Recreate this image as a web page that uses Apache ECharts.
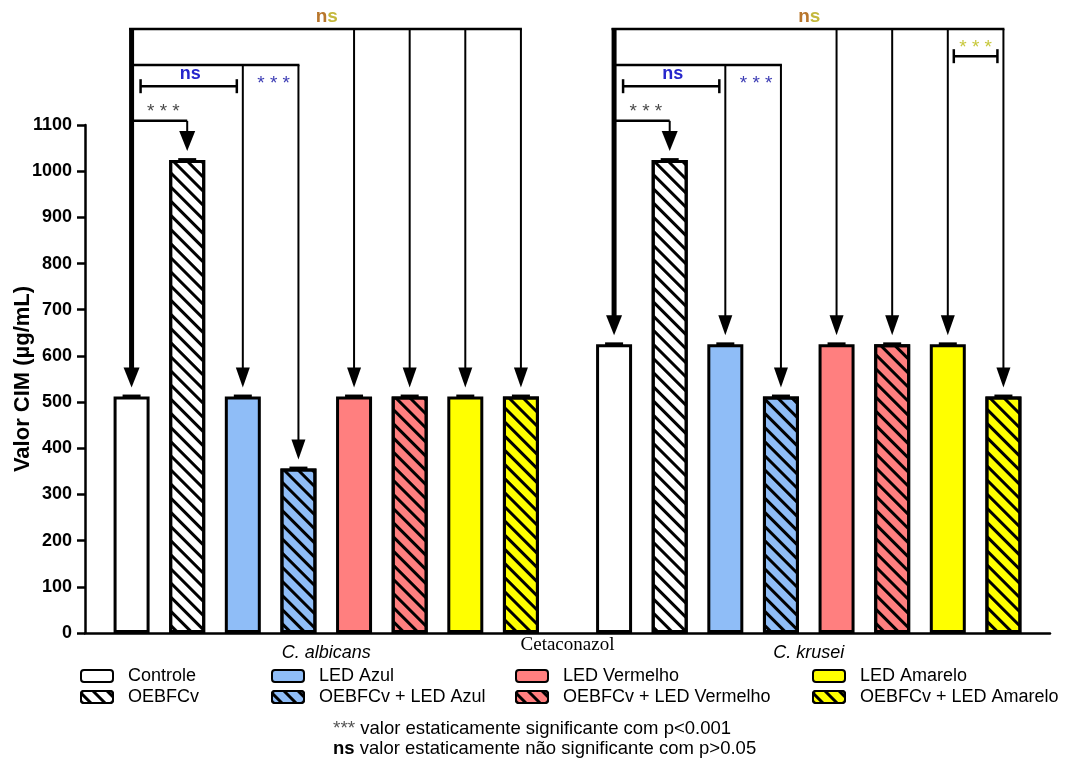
<!DOCTYPE html>
<html>
<head>
<meta charset="utf-8">
<script src="https://cdn.jsdelivr.net/npm/echarts@6/dist/echarts.min.js"></script>
<style>html,body{margin:0;padding:0;background:#fff}#c{width:1065px;height:759px}</style>
</head>
<body>
<div id="c"></div>
<script>
// ---- data ----
const categories = ['C. albicans', 'C. krusei'];
const seriesNames = ['Controle', 'OEBFCv', 'LED Azul', 'OEBFCv + LED Azul',
  'LED Vermelho', 'OEBFCv + LED Vermelho', 'LED Amarelo', 'OEBFCv + LED Amarelo'];
const controle       = [512, 625];
const oebfcv         = [1024, 1024];
const ledAzul        = [512, 625];
const oebfcvAzul     = [356, 512];
const ledVermelho    = [512, 625];
const oebfcvVermelho = [512, 625];
const ledAmarelo     = [512, 625];
const oebfcvAmarelo  = [512, 512];
const seriesValues = [controle, oebfcv, ledAzul, oebfcvAzul, ledVermelho, oebfcvVermelho, ledAmarelo, oebfcvAmarelo];
const xAxisName = 'Cetaconazol';
const yAxisName = 'Valor CIM (µg/mL)';

// ---- styles ----
const FONT = 'Liberation Sans, Arial, sans-serif';
const colors = ['#ffffff', '#ffffff', '#8fbdf7', '#8fbdf7', '#ff7f7f', '#ff7f7f', '#ffff00', '#ffff00'];
const hatched = [false, true, false, true, false, true, false, true];
const BAR_W = 36, GAP_RATIO = 0.545;
const SP = BAR_W * (1 + GAP_RATIO);

function hatchDecal() {
  return {
    symbol: 'rect', symbolSize: 1, color: '#000',
    dashArrayX: [1, 0], dashArrayY: [2.2, 6.3], rotation: Math.PI / 4
  };
}

const barSeries = seriesNames.map((name, i) => {
  const itemStyle = { color: colors[i], borderColor: '#000', borderWidth: 3 };
  if (hatched[i]) itemStyle.decal = hatchDecal();
  return {
    name: name,
    type: 'bar',
    data: seriesValues[i],
    barWidth: BAR_W,
    barGap: (GAP_RATIO * 100) + '%',
    itemStyle: itemStyle,
    emphasis: { disabled: true },
    z: 2
  };
});

// annotation levels (value units, above the axis max)
const L_TOP = 1308, L_MID = 1230, L_NS = 1184, L_GREY = 1109, L_YEL = 1249;

function renderAnnot(params, api) {
  const g = api.value(0);
  const cx = api.coord([g, 0])[0];
  const xc = i => cx + (i - 3.5) * SP;
  const py = v => api.coord([g, v])[1];
  const top = i => py(seriesValues[i][g]);
  const ch = [];
  const line = (x1, y1, x2, y2, w) => ch.push({ type: 'line', shape: { x1, y1, x2, y2 }, style: { stroke: '#000', lineWidth: w || 2 } });
  const arrow = (x, yTop, hw, w) => {
    const tip = top(x) - 9;
    const X = xc(x);
    line(X, yTop, X, tip - 14, w);
    ch.push({ type: 'polygon', shape: { points: [[X - hw, tip - 20], [X + hw, tip - 20], [X, tip]] }, style: { fill: '#000' } });
  };
  const text = (x, y, t, fill, size, bold, align) => ch.push({
    type: 'text', style: { text: t, x, y, fill, fontSize: size, fontWeight: bold ? 'bold' : 'normal', fontFamily: FONT, align: align || 'center', verticalAlign: 'middle' }
  });
  const bracket = (x1, x2, y, cap) => { line(x1, y, x2, y, 2.5); line(x1, y - cap, x1, y + cap, 2.5); line(x2, y - cap, x2, y + cap, 2.5); };

  // error caps
  for (let i = 0; i < 8; i++) line(xc(i) - 9, top(i), xc(i) + 9, top(i), 4);

  const yT = py(L_TOP), yM = py(L_MID), yN = py(L_NS), yG = py(L_GREY);
  // top comparison
  line(xc(0) - 2.5, yT, xc(7) + 1, yT, 2.5);
  arrow(0, yT - 1, 8, 5);
  [4, 5, 6, 7].forEach(i => arrow(i, yT, 7, 2));
  text(cx + 1, yT - 12, 'n', '#b8762c', 19, true, 'right');
  text(cx + 1, yT - 12, 's', '#c4b83c', 19, true, 'left');
  // middle comparison
  line(xc(0), yM, xc(3) + 1, yM, 2.5);
  [2, 3].forEach(i => arrow(i, yM, 7, 2));
  text((xc(2) + xc(3)) / 2 + 3, yM + 19, '* * *', '#3c3cb4', 19, false);
  // ns bracket
  bracket(xc(0) + 9, xc(2) - 6, yN, 7);
  text((xc(0) + xc(2)) / 2 + 3, yN - 12, 'ns', '#2626cc', 18, true);
  // grey comparison
  line(xc(0), yG, xc(1), yG, 2.5);
  arrow(1, yG, 8, 2);
  text((xc(0) + xc(1)) / 2 + 4, yG - 9, '* * *', '#4a4a4a', 19, false);
  if (g === 1) {
    const yY = py(L_YEL);
    bracket(xc(6) + 6, xc(7) - 6, yY, 7);
    text((xc(6) + xc(7)) / 2, yY - 8, '* * *', '#c8c83c', 19, false);
  }
  return { type: 'group', children: ch };
}

const legendCols = [
  { left: 80, names: [seriesNames[0], seriesNames[1]] },
  { left: 271, names: [seriesNames[2], seriesNames[3]] },
  { left: 515, names: [seriesNames[4], seriesNames[5]] },
  { left: 812, names: [seriesNames[6], seriesNames[7]] }
];

const chart = echarts.init(document.getElementById('c'), null, { renderer: 'canvas' });
chart.setOption({
  animation: false,
  backgroundColor: '#fff',
  textStyle: { fontFamily: FONT },
  grid: { left: 85, right: 15, top: 125, bottom: 126, containLabel: false },
  legend: legendCols.map(c => ({
    left: c.left, top: 667, orient: 'vertical', data: c.names, padding: 0,
    itemWidth: 32, itemHeight: 12, itemGap: 3, selectedMode: false,
    textStyle: { fontSize: 18, color: '#000', fontFamily: FONT, padding: [0, 0, 0, 10] }
  })),
  title: [
    { left: 333, top: 719, padding: 0, text: '{a|***} valor estaticamente significante com p<0.001',
      textStyle: { fontSize: 18.5, fontWeight: 'normal', color: '#000', fontFamily: FONT,
        rich: { a: { fontSize: 19, color: '#555', fontFamily: FONT } } } },
    { left: 333, top: 739, padding: 0, text: '{b|ns} valor estaticamente não significante com p>0.05',
      textStyle: { fontSize: 18.5, fontWeight: 'normal', color: '#000', fontFamily: FONT,
        rich: { b: { fontSize: 18.5, fontWeight: 'bold', color: '#000', fontFamily: FONT } } } }
  ],
  xAxis: {
    type: 'category', data: categories,
    name: xAxisName, nameLocation: 'middle', nameGap: 3, nameMoveOverlap: false,
    nameTextStyle: { fontFamily: 'Liberation Serif, Times New Roman, serif', fontSize: 19, color: '#000', verticalAlign: 'top' },
    axisLine: { lineStyle: { color: '#000', width: 2.5 } },
    axisTick: { alignWithLabel: true, length: 8, lineStyle: { color: '#000', width: 2.5 } },
    axisLabel: { fontSize: 18, fontStyle: 'italic', color: '#000', margin: 11, fontFamily: FONT },
    splitLine: { show: false }
  },
  yAxis: {
    type: 'value', min: 0, max: 1100, interval: 100,
    name: yAxisName, nameLocation: 'middle', nameGap: 51, nameMoveOverlap: false,
    nameTextStyle: { fontSize: 22, fontWeight: 'bold', color: '#000', fontFamily: FONT },
    axisLine: { show: true, lineStyle: { color: '#000', width: 2.5 } },
    axisTick: { show: true, length: 8, lineStyle: { color: '#000', width: 2.5 } },
    axisLabel: { fontSize: 18, fontWeight: 'bold', color: '#000', margin: 13, fontFamily: FONT,
      formatter: v => String(v) },
    splitLine: { show: false }
  },
  series: barSeries.concat([{
    type: 'custom', name: 'annotations',
    renderItem: renderAnnot,
    data: [[0, 0], [1, 0]],
    encode: { x: 0, y: 1 },
    clip: false, silent: true, z: 5
  }])
});
</script>
</body>
</html>
